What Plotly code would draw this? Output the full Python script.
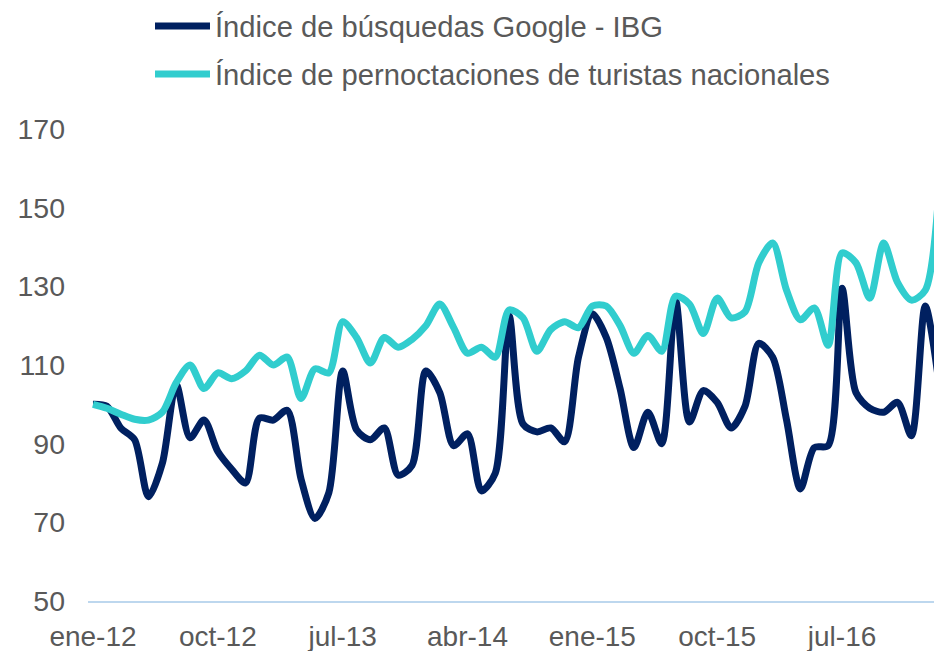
import plotly.graph_objects as go

MES = ["ene", "feb", "mar", "abr", "may", "jun", "jul", "ago", "sep", "oct", "nov", "dic"]
months = [f"{MES[i % 12]}-{12 + i // 12}" for i in range(62)]

ibg = [100, 99.5, 94, 91, 76.5, 85, 105, 91.5, 96, 88, 83.5, 80,
       96.5, 96, 98.5, 81, 71, 77.5, 108.5, 93.5, 91, 94, 82, 84.5,
       108.5, 103, 89.5, 92.5, 78, 82.5, 122.5, 95, 93, 94, 90.5, 112,
       123, 117, 104, 89, 98, 90, 126.5, 95.5, 103.5, 100.5, 94, 99.5,
       115.5, 112, 96, 78.5, 89, 89.5, 129.5, 103, 99, 98, 100.5, 92,
       125, 105]

pernoct = [100, 99, 97.5, 96.2, 96, 98, 105.5, 110, 104, 108, 106.5, 108.5,
           112.5, 110, 112, 101.5, 109, 108, 121, 117, 110.5, 117, 114.5, 116.5,
           120, 125.5, 119.5, 113, 114.5, 112, 124, 122, 113.5, 119, 121, 119.5,
           125, 125, 120, 113, 117.5, 113.5, 127.5, 125.5, 118, 127, 122, 123.5,
           136, 141, 129, 121.5, 124.5, 115, 138.5, 136, 127, 141, 131, 126.5,
           129, 155]

names = ["Índice de búsquedas Google - IBG",
         "Índice de pernoctaciones de turistas nacionales"]
colors = ["#002060", "#31CDCE"]

y_ticks = [50, 70, 90, 110, 130, 150, 170]
x_ticks = months[::9][:7]

FONT = "Liberation Sans, Arial, sans-serif"
GREY = "#595959"

W, H = 934, 651
L, R, T, B = 88, 0, 129, 50
PW, PH = W - L - R, H - T - B


def px_x(x):
    return (x - L) / PW


def px_y(y):
    return (H - B - y) / PH


fig = go.Figure()
fig.add_trace(go.Scatter(x=months, y=ibg, name=names[0], mode="lines",
                         legendgroup="a",
                         line=dict(color=colors[0], width=7, shape="spline", smoothing=0.8)))
fig.add_trace(go.Scatter(x=months, y=pernoct, name=names[1], mode="lines",
                         legendgroup="b",
                         line=dict(color=colors[1], width=7, shape="spline", smoothing=0.8)))

fig.update_layout(
    width=W, height=H,
    margin=dict(l=L, r=R, t=T, b=B, autoexpand=False),
    paper_bgcolor="white", plot_bgcolor="white",
    font=dict(family=FONT, size=28, color=GREY),
    legend=dict(x=px_x(150), y=px_y(50), xanchor="left", yanchor="middle",
                font=dict(family=FONT, size=29.2, color=GREY), itemwidth=55,
                traceorder="grouped", tracegroupgap=7,
                bgcolor="rgba(0,0,0,0)", borderwidth=0),
    xaxis=dict(type="category", range=[-0.36, 60.63], tickmode="array",
               tickvals=x_ticks, ticktext=x_ticks, tickangle=0,
               showgrid=False, zeroline=False,
               showline=True, linecolor="#BDD7EE", linewidth=1.5, ticks="",
               ticklabelstandoff=10, tickfont=dict(size=28, color=GREY)),
    yaxis=dict(range=[50, 170], tickmode="array", tickvals=y_ticks,
               showgrid=False, zeroline=False, showline=False, ticks="",
               ticklabelstandoff=22, tickfont=dict(size=28.5, color=GREY)),
)

fig.write_html("out.html", config={"displayModeBar": False},
               post_script="document.body.style.margin='0';document.body.style.overflow='hidden';")
